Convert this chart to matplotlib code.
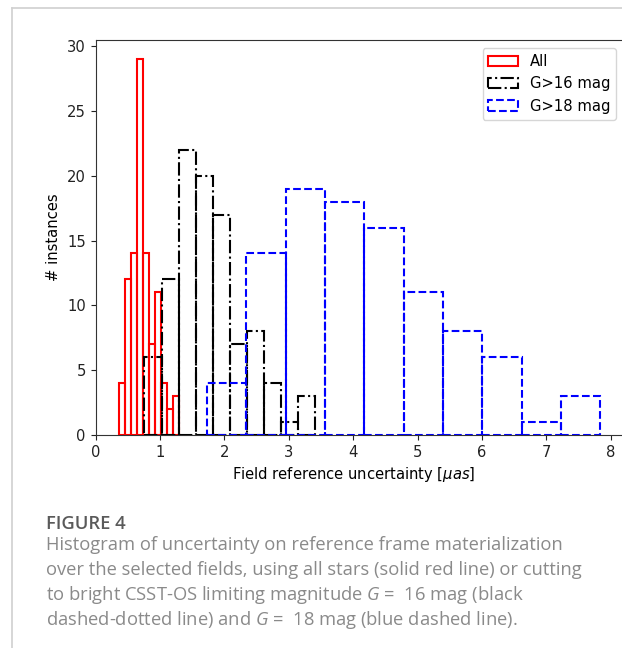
import matplotlib
matplotlib.use("Agg")
import matplotlib.pyplot as plt
import numpy as np

# caption maths in the caption font, axis label keeps DejaVu maths
plt.rcParams["mathtext.fontset"] = "custom"
plt.rcParams["mathtext.it"] = "Open Sans:italic"
plt.rcParams["mathtext.rm"] = "Open Sans"

# counts per bin (100 fields in each sample)
counts_all = [4, 12, 14, 29, 14, 7, 11, 4, 2, 3]
counts_g16 = [6, 12, 22, 20, 17, 7, 8, 4, 1, 3]
counts_g18 = [4, 14, 19, 18, 16, 11, 8, 6, 1, 3]

# first and last bin edge of each histogram
range_all = (0.36, 1.30)
range_g16 = (0.76, 3.41)
range_g18 = (1.73, 7.84)

labels = ["All", "G>16 mag", "G>18 mag"]

caption_head = "FIGURE 4"
caption_lines = [
    "Histogram of uncertainty on reference frame materialization",
    "over the selected fields, using all stars (solid red line) or cutting",
    "to bright CSST-OS limiting magnitude $G$ =  16 mag (black",
    "dashed-dotted line) and $G$ =  18 mag (blue dashed line).",
]

W, H = 622, 648
fs = 10.6
fig = plt.figure(figsize=(W / 100, H / 100), dpi=100)

# light panel border (top and left visible, rest is cropped)
fig.add_artist(plt.Line2D([12 / W, 1], [1 - 8 / H, 1 - 8 / H], color="#d0d0d0", lw=1.2))
fig.add_artist(plt.Line2D([12 / W, 12 / W], [0, 1 - 8 / H], color="#d0d0d0", lw=1.2))

# axes: x=0 at 95.5px, 64.4px per unit; runs past the right edge
x_max = 8.214
ax_left, ax_bottom, ax_top = 95.5, 435, 40.2
ax_w = x_max * 64.4
ax = fig.add_axes([ax_left / W, 1 - ax_bottom / H, ax_w / W, (ax_bottom - ax_top) / H])

for counts, rng, col, ls, lab in [
    (counts_all, range_all, "red", "-", labels[0]),
    (counts_g16, range_g16, "black", "-.", labels[1]),
    (counts_g18, range_g18, "blue", "--", labels[2]),
]:
    edges = np.linspace(rng[0], rng[1], len(counts) + 1)
    ax.hist(edges[:-1], bins=edges, weights=counts, histtype="bar", fill=False,
            edgecolor=col, linestyle=ls, lw=1.5, label=lab)

ax.set_xlim(0, x_max)
ax.set_ylim(0, 30.45)
ax.set_xticks(np.arange(0, 9, 1))
ax.set_yticks(np.arange(0, 31, 5))
ax.tick_params(labelsize=fs, colors="#222222")
for s in ax.spines.values():
    s.set_color("#333333")
ax.set_xlabel("Field reference uncertainty [$\\mu as$]", fontsize=fs,
              math_fontfamily="dejavusans")
ax.xaxis.set_label_coords((353.5 - ax_left) / ax_w, -0.075)
ax.set_ylabel("# instances", fontsize=fs)

ax.legend(loc="upper right", bbox_to_anchor=(616 / W, 1 - 48 / H),
          bbox_transform=fig.transFigure, borderaxespad=0, fontsize=fs)

# caption
cap_font = "Open Sans"
fig.text(46 / W, 1 - 529 / H, caption_head, fontsize=13.2, fontweight="semibold",
         color="#5a5a5a", family=cap_font, va="baseline")
for i, line in enumerate(caption_lines):
    fig.text(46 / W, 1 - (550 + 25 * i) / H, line, fontsize=13.2,
             color="#8a8a8a", family=cap_font, va="baseline")

fig.savefig("out.png", dpi=100)
